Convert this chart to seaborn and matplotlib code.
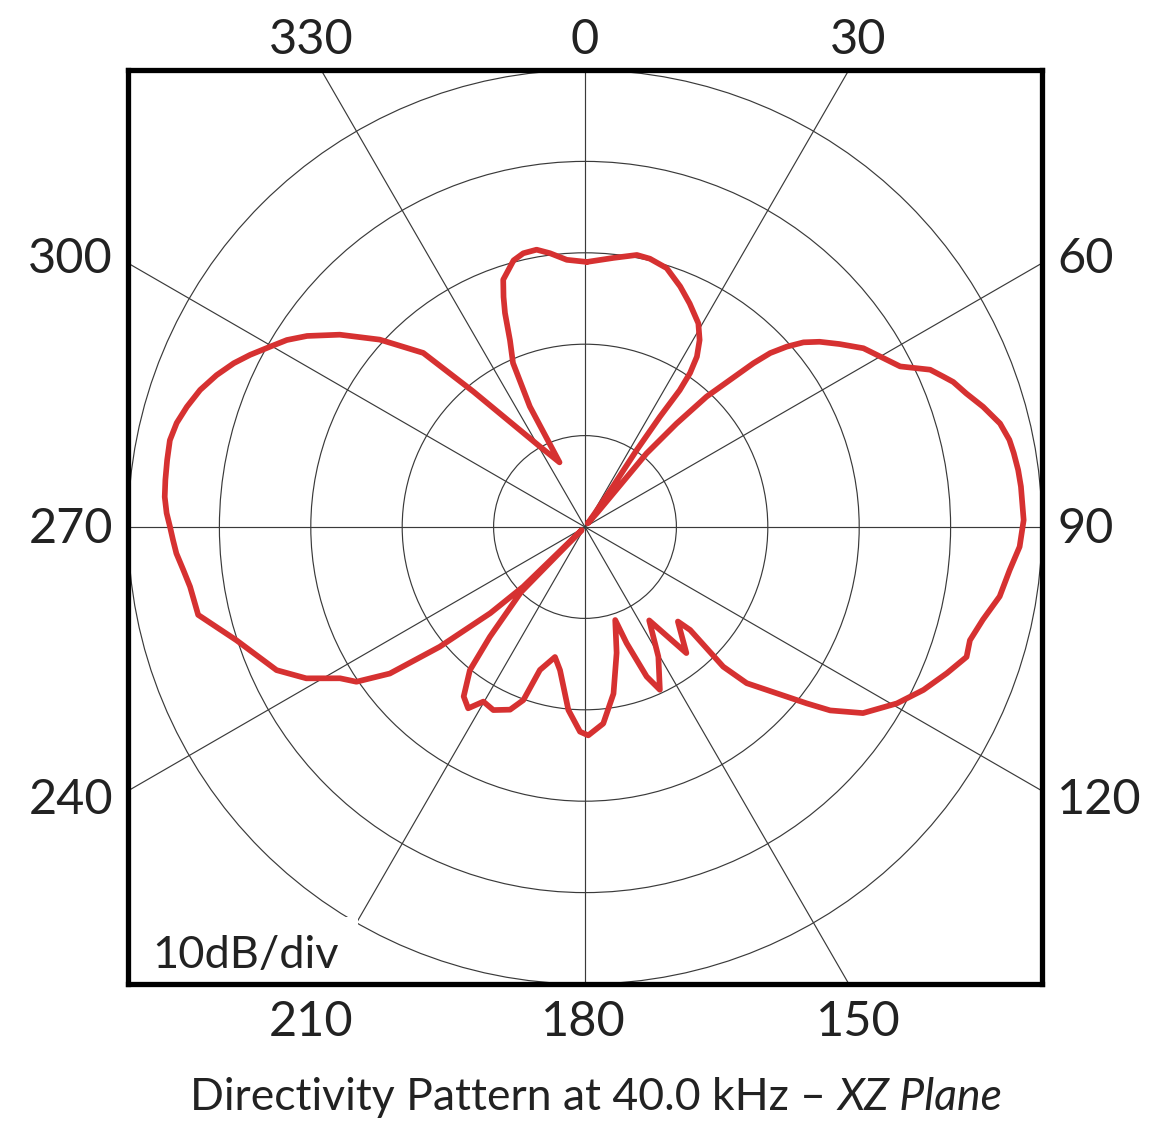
import numpy as np
import pandas as pd
import matplotlib
matplotlib.use("Agg")
import matplotlib.pyplot as plt
from matplotlib.patches import Circle
import seaborn as sns

# ---------------- data (angle clockwise from top, level in dB re. outer ring) -------------
angle_deg = [0.4, 6.0, 10.8, 13.6, 17.5, 21.6, 25.1, 29.1, 31.5, 33.3, 34.3, 34.7, 34.2, 33.9,
             34.5, 35.5, 37.0, 40.5, 40.0, 39.9, 41.5, 43.0, 44.6, 45.8, 46.8, 48.2, 49.8,
             51.7, 54.3, 57.3, 60.0, 63.0, 64.4, 65.5, 67.2, 68.5, 70.7, 73.2, 76.0, 78.4,
             80.2, 82.5, 84.7, 89.1, 92.6, 95.8, 99.5, 103.1, 106.4, 108.8, 112.0, 115.7,
             119.5, 123.8, 126.8, 128.5, 130.1, 134.0, 135.3, 134.4, 135.5, 141.2, 145.5,
             150.5, 155.3, 157.6, 160.3, 162.0, 165.9, 170.3, 174.7, 179.1, 181.4, 185.2,
             189.9, 193.0, 197.5, 199.6, 202.3, 206.6, 210.2, 212.8, 215.6, 218.8, 220.9,
             224.5, 227.0, 226.0, 227.7, 230.5, 233.1, 235.9, 238.3, 241.5, 245.1, 252.0,
             257.2, 259.0, 261.4, 263.9, 266.3, 268.2, 270.0, 271.9, 274.1, 276.4, 279.1,
             281.8, 284.3, 286.8, 289.6, 292.4, 295.0, 297.2, 299.8, 302.1, 304.5, 308.1,
             312.4, 317.1, 320.5, 330.7, 338.5, 335.4, 336.3, 338.1, 339.5, 340.5, 341.7,
             343.9, 345.0, 347.3, 350.1, 352.7, 356.1]
level_db = [-21.0, -20.4, -19.7, -19.8, -20.3, -21.7, -23.0, -24.5, -26.0, -27.7, -29.6, -31.8,
            -35.4, -39.9, -44.5, -48.0, -49.5, -48.0, -44.0, -39.5, -34.9, -30.5, -27.4, -24.3,
            -22.2, -20.4, -18.7, -17.3, -15.7, -13.8, -12.7, -11.3, -9.8, -8.5, -7.5, -6.7,
            -5.8, -4.5, -3.2, -2.6, -2.4, -2.2, -2.1, -2.0, -2.4, -3.3, -4.0, -5.3, -6.1, -5.9,
            -7.3, -8.9, -10.8, -13.4, -16.5, -19.0, -21.2, -25.4, -28.5, -33.9, -35.5, -32.3,
            -37.6, -33.7, -30.4, -32.3, -36.5, -39.3, -35.8, -31.5, -28.4, -27.2, -27.6, -29.9,
            -34.1, -35.4, -33.6, -29.9, -28.4, -27.6, -27.9, -26.4, -27.2, -29.9, -34.1, -40.0,
            -49.5, -40.6, -36.0, -29.4, -23.3, -19.8, -18.5, -15.3, -12.8, -9.9, -6.6, -6.5,
            -6.3, -5.8, -5.2, -4.9, -4.6, -4.2, -3.9, -3.8, -3.7, -3.6, -3.9, -4.5, -5.3, -6.4,
            -7.6, -8.8, -10.3, -11.5, -13.1, -15.9, -19.6, -24.0, -30.8, -39.9, -42.4, -35.5,
            -30.4, -28.0, -25.0, -23.3, -21.5, -20.4, -19.8, -19.3, -19.2, -19.8, -20.7]
assert len(angle_deg) == len(level_db)

ring_db = [-40, -30, -20, -10, 0]
spoke_deg = [0, 30, 60, 90, 120, 150, 180, 210, 240, 270, 300, 330]
spoke_labels = ["0", "30", "60", "90", "120", "150", "180", "210", "240", "270", "300", "330"]
scale_note = "10dB/div"
caption_main = "Directivity Pattern at 40.0 kHz \u2013 "
caption_italic = "XZ Plane"

DB_FLOOR = -50.0
DB_PER_DIV = 10.0

# ---------------- style ----------------
W, H = 1155, 1122
RED = "#d63131"
GRID = "#3a3a3a"
TXT = "#222222"

sns.set_theme(style="white")
plt.rcParams["font.family"] = ["Lato", "DejaVu Sans"]

fig = plt.figure(figsize=(W / 100, H / 100), dpi=100)
fig.patch.set_facecolor("white")

# square frame: pixel box 128..1042 x 70..984
ax = fig.add_axes([128 / W, (H - 984) / H, 914 / W, 914 / H])
ax.set_facecolor("white")


def to_xy(theta_deg, db):
    r = (np.asarray(db, dtype=float) - DB_FLOOR) / DB_PER_DIV
    r = np.clip(r, 0, None)
    t = np.deg2rad(np.asarray(theta_deg, dtype=float))
    return r * np.sin(t), r * np.cos(t)


# grid rings and spokes
for db in ring_db:
    rr = (db - DB_FLOOR) / DB_PER_DIV
    ax.add_patch(Circle((0, 0), rr, fill=False, ec=GRID, lw=0.85, zorder=1))
for a in spoke_deg:
    sx, sy = to_xy([a, a], [DB_FLOOR, DB_FLOOR + 40 * DB_PER_DIV])
    ax.plot(sx, sy, color=GRID, lw=0.85, zorder=1, solid_capstyle="butt")

# pattern trace (closed)
xs, ys = to_xy(angle_deg + angle_deg[:1], level_db + level_db[:1])
df = pd.DataFrame({"x": xs, "y": ys})
sns.lineplot(data=df, x="x", y="y", sort=False, estimator=None, color=RED,
             lw=4.1, ax=ax, zorder=3, solid_joinstyle="round", solid_capstyle="round")

ax.set_xlim(-5.0, 5.0)
ax.set_ylim(-5.0, 5.0)
ax.set_aspect("equal", adjustable="box")
ax.set_xticks([])
ax.set_yticks([])
ax.set_xlabel("")
ax.set_ylabel("")
for sp in ax.spines.values():
    sp.set_visible(True)
    sp.set_color("black")
    sp.set_linewidth(3.8)
    sp.set_zorder(10)

# scale note with white box
ax.text(0.027, 0.017, scale_note, transform=ax.transAxes, fontsize=32.5, color=TXT,
        ha="left", va="baseline", zorder=6,
        bbox=dict(boxstyle="square,pad=0.42", fc="white", ec="none"))

# angle labels around the frame (pixel positions)
lab_pos = {
    "0": (585, 40, "center"), "30": (858, 40, "center"), "330": (311, 40, "center"),
    "60": (1057, 259, "left"), "90": (1057, 529, "left"), "120": (1057, 800, "left"),
    "150": (858, 1022, "center"), "180": (583, 1022, "center"), "210": (311, 1022, "center"),
    "240": (113, 800, "right"), "270": (113, 529, "right"), "300": (113, 259, "right"),
}
for lab in spoke_labels:
    px, py, ha = lab_pos[lab]
    fig.text(px / W, 1 - py / H, lab, fontsize=35, color=TXT, ha=ha, va="center")

# caption
base_y = 1 - 1110 / H
t1 = fig.text(190 / W, base_y, caption_main, fontsize=32, color=TXT,
              ha="left", va="baseline")
fig.canvas.draw()
bb = t1.get_window_extent(renderer=fig.canvas.get_renderer())
fig.text(bb.x1 / W, base_y, caption_italic, fontsize=32, color=TXT, style="italic",
         ha="left", va="baseline")

fig.savefig("out.png", dpi=100, facecolor="white")
